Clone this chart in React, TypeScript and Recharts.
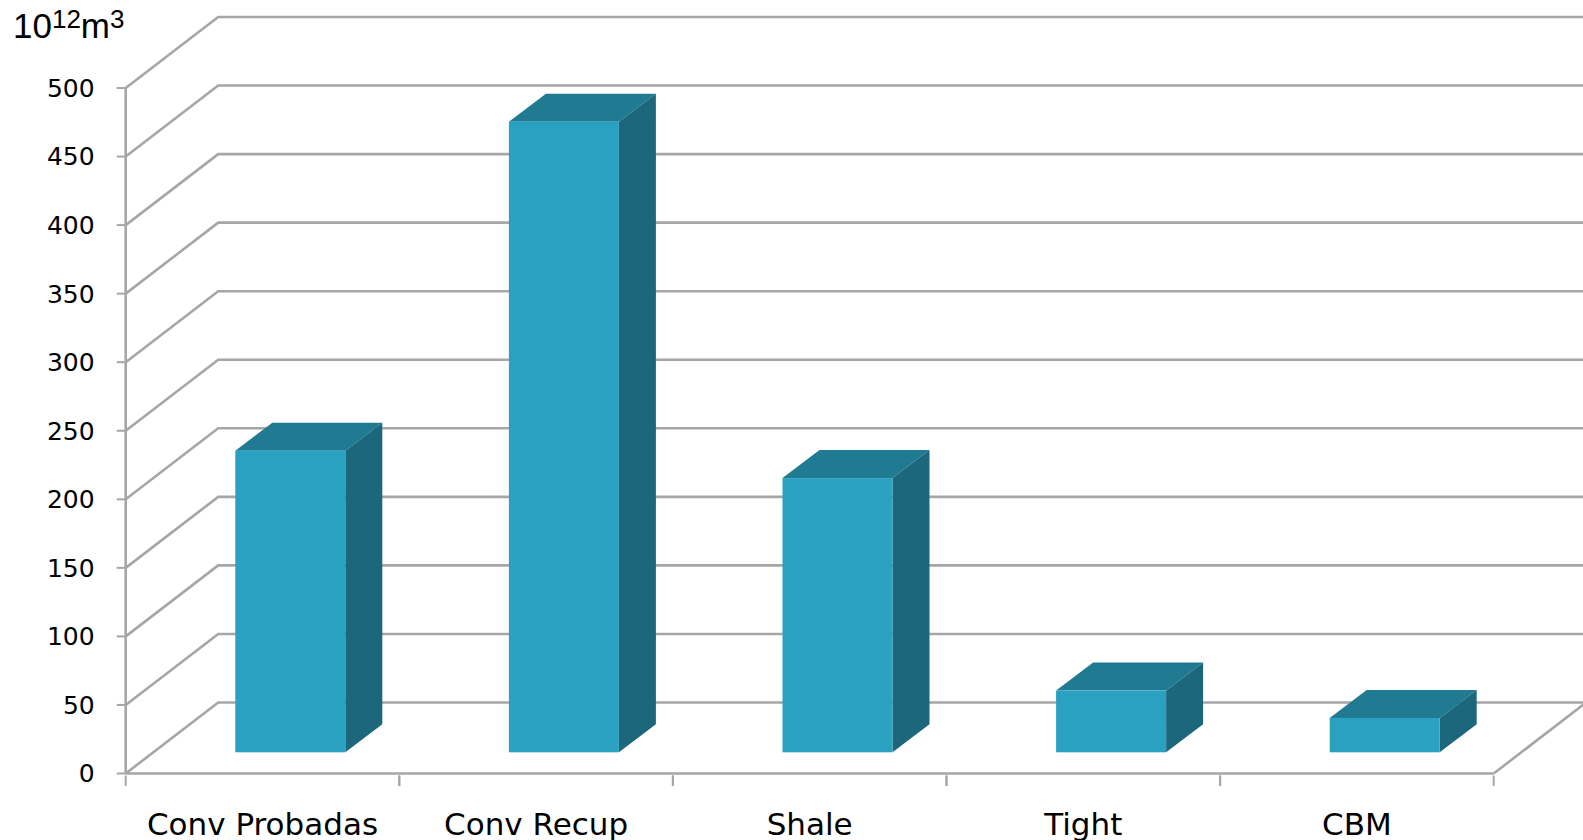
import React from 'react';
import { BarChart, Bar, XAxis, YAxis, CartesianGrid } from 'recharts';

const categories = ['Conv Probadas', 'Conv Recup', 'Shale', 'Tight', 'CBM'];
const reserves = [220, 460, 200, 45, 25];
const yTicks = [0, 50, 100, 150, 200, 250, 300, 350, 400, 450, 500];

const data = categories.map((name, i) => ({ name, value: reserves[i] }));

const WIDTH = 1583;
const HEIGHT = 840;
const LEFT = 125.7;
const RIGHT_GAP = 89.3;
const TOP = 88;
const BOTTOM = 66.5;
const BAND = (WIDTH - LEFT - RIGHT_GAP) / categories.length;

// offset of the back wall from the front plane
const WALL_DX = 92.5;
const WALL_DY = 71;
// bars stand a little way into the floor, and have their own depth
const BAR_DX = 27.6;
const BAR_DY = 21.2;
const DEPTH_DX = 37;
const DEPTH_DY = 28;

const LINE = '#a6a6a6';
const LINE_W = 2.6;
const FRONT = '#2aa1c1';
const TOP_FACE = '#207b92';
const SIDE = '#1c677b';
const FONT = '"DejaVu Sans", sans-serif';

const Box = ({ x, y, width, height }: any) => {
  const l = x + BAR_DX;
  const r = l + width;
  const t = y - BAR_DY;
  const b = t + height;
  return (
    <g>
      <polygon
        points={`${l},${t} ${l + DEPTH_DX},${t - DEPTH_DY} ${r + DEPTH_DX},${t - DEPTH_DY} ${r},${t}`}
        fill={TOP_FACE}
      />
      <polygon
        points={`${r},${t} ${r + DEPTH_DX},${t - DEPTH_DY} ${r + DEPTH_DX},${b - DEPTH_DY} ${r},${b}`}
        fill={SIDE}
      />
      <rect x={l} y={t} width={width} height={height} fill={FRONT} />
    </g>
  );
};

const WallLine = ({ x1, y1, x2, y2 }: any) => (
  <polyline
    points={`${x1},${y1} ${x1 + WALL_DX},${y1 - WALL_DY} ${x2 + WALL_DX},${y2 - WALL_DY}`}
    fill="none"
    stroke={LINE}
    strokeWidth={LINE_W}
  />
);

const CategoryTick = ({ x, y, payload }: any) => (
  <g>
    <line x1={x - BAND / 2} y1={y} x2={x - BAND / 2} y2={y + 10.5} stroke={LINE} strokeWidth={2} />
    <line x1={x + BAND / 2} y1={y} x2={x + BAND / 2} y2={y + 10.5} stroke={LINE} strokeWidth={2} />
    <text x={x} y={y + 59} textAnchor="middle" fontSize={31} fontFamily={FONT} fill="#000">
      {payload.value}
    </text>
  </g>
);

const App = () => (
  <div style={{ position: 'absolute', left: 0, top: 0, width: WIDTH, height: HEIGHT, background: '#fff' }}>
    <BarChart
      width={WIDTH}
      height={HEIGHT}
      data={data}
      margin={{ top: TOP, right: RIGHT_GAP, bottom: 0, left: 0 }}
      barCategoryGap={0}
    >
      <CartesianGrid vertical={false} horizontal={(props: any) => <WallLine key={props.key} {...props} />} />
      <XAxis
        dataKey="name"
        height={BOTTOM}
        interval={0}
        axisLine={{ stroke: LINE, strokeWidth: LINE_W }}
        tickLine={false}
        tickSize={0}
        tick={<CategoryTick />}
      />
      <YAxis
        width={LEFT}
        domain={[0, 500]}
        ticks={yTicks}
        interval={0}
        axisLine={{ stroke: LINE, strokeWidth: LINE_W }}
        tickLine={{ stroke: LINE, strokeWidth: 2 }}
        tickSize={9}
        tickMargin={22}
        tick={{ fill: '#000', fontSize: 25, fontFamily: FONT }}
      />
      <line
        x1={WIDTH - RIGHT_GAP}
        y1={HEIGHT - BOTTOM}
        x2={WIDTH - RIGHT_GAP + WALL_DX}
        y2={HEIGHT - BOTTOM - WALL_DY}
        stroke={LINE}
        strokeWidth={LINE_W}
      />
      <Bar dataKey="value" barSize={110} isAnimationActive={false} shape={<Box />} />
      <text x={13} y={38} fontFamily="'Liberation Sans', Arial, sans-serif" fontSize={35} fill="#000">
        10
        <tspan fontSize={26} dy={-10}>12</tspan>
        <tspan fontSize={35} dy={10}>m</tspan>
        <tspan fontSize={26} dy={-10}>3</tspan>
      </text>
    </BarChart>
  </div>
);

export default App;
